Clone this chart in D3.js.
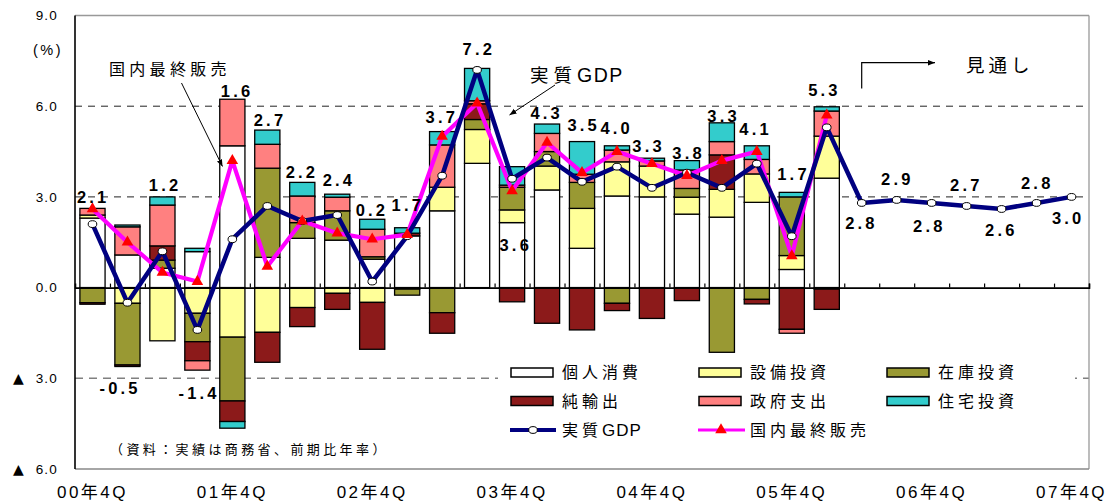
<!DOCTYPE html>
<html><head><meta charset="utf-8">
<script src="https://cdn.jsdelivr.net/npm/d3@7"></script>
<style>
body{margin:0;background:#fff}
svg{display:block;font-family:"Liberation Sans","Noto Sans CJK JP",sans-serif}
</style></head><body><svg id="c" width="1115" height="501"></svg>
<script>
// ---------------- DATA ----------------
const quarters = ["00年4Q","01年1Q","01年2Q","01年3Q","01年4Q","02年1Q","02年2Q","02年3Q","02年4Q",
  "03年1Q","03年2Q","03年3Q","03年4Q","04年1Q","04年2Q","04年3Q","04年4Q","05年1Q","05年2Q","05年3Q",
  "05年4Q","06年1Q","06年2Q","06年3Q","06年4Q","07年1Q","07年2Q","07年3Q","07年4Q"];
const xTickLabels = ["00年4Q","01年4Q","02年4Q","03年4Q","04年4Q","05年4Q","06年4Q","07年4Q"];
const yTicks = [-6, -3, 0, 3, 6, 9];
const yTickLabels = ["▲ 6.0","▲ 3.0","0.0","3.0","6.0","9.0"];
const seriesNames = ["個人消費","設備投資","在庫投資","純輸出","政府支出","住宅投資"];
// contributions (actual quarters 00年4Q .. 06年1Q)
const personal   = [2.30,1.08,0.64,1.19,4.69,1.00,1.63,1.57,0.94,1.71,2.54,4.11,2.15,3.23,1.30,3.03,3.00,2.43,2.33,2.82,0.60,3.62];
const capex      = [0.10,-0.52,-1.76,-0.85,-1.64,-1.48,-0.66,-0.19,-0.49,-0.05,0.78,1.12,0.42,0.79,1.32,1.13,1.02,0.56,0.92,0.94,0.46,1.39];
const inventory  = [-0.50,-2.04,0.27,-0.94,-2.11,2.95,0.52,0.97,0.08,-0.20,-0.83,0.33,0.75,0.48,0.86,-0.52,0.00,0.29,-2.14,-0.39,1.94,-0.05];
const netExports = [-0.05,-0.05,0.47,-0.63,-0.68,-0.99,-0.63,-0.53,-1.55,0.09,-0.68,0.52,-0.47,-1.18,-1.40,-0.24,-1.02,-0.43,1.14,-0.15,-1.38,-0.67];
const government = [0.22,0.93,1.35,-0.31,1.54,0.79,0.88,0.45,0.91,0.00,1.40,0.10,0.07,0.60,0.27,0.39,0.17,0.61,0.44,0.48,-0.13,0.83];
const housing    = [0.00,0.06,0.27,0.11,-0.22,0.47,0.45,0.10,0.33,0.18,0.44,1.07,0.61,0.31,1.08,0.14,0.09,0.31,0.62,0.45,0.15,0.14];
const realGDP = [2.1,-0.5,1.2,-1.4,1.6,2.7,2.2,2.4,0.2,1.7,3.7,7.2,3.6,4.3,3.5,4.0,3.3,3.8,3.3,4.1,1.7,5.3,
  2.8,2.9,2.8,2.7,2.6,2.8,3.0];
const finalSales = [2.6,1.5,0.5,0.2,4.2,0.7,2.2,1.8,1.6,1.75,5.0,6.1,3.2,4.8,3.8,4.5,4.1,3.7,4.2,4.5,1.05,5.7];

// ---------------- LAYOUT / STYLE ----------------
const labelDx = [-1,-9,1,0,3,1,-2,0,-2,-1,-2,0,2,-2,0,-2,-5,0,0,-3,0,-4,-2,-1,-4,-2,-2,-1,-5];
const labelDy = [-27,85,-66,63,-148,-86,-49,-35,-71,-31,-59,-21,66,-45,-57,-39,-42,-20,-72,-35,-62,-37,20,-21,23,-21,21,-20,21];
const colors = ["#FFFFFF","#FFFF99","#999933","#8C1A1A","#FF8080","#33CCCC"];
const L = 75, R = 1089, T = 15.5, B = 469;

const svg = d3.select("#c");
const x = d3.scaleBand().domain(quarters).range([L, R]).paddingInner(0.28).paddingOuter(0.14);
const y = d3.scaleLinear().domain([-6, 9]).range([B, T]);
const bw = x.bandwidth();
const cx = q => x(q) + bw / 2;

// gridlines
const grid = svg.append("g");
[6, 3].forEach(v => grid.append("line").attr("x1", L).attr("x2", R).attr("y1", y(v)).attr("y2", y(v))
  .attr("stroke", "#222").attr("stroke-width", 1).attr("stroke-dasharray", "7,6"));
grid.append("line").attr("x1", L).attr("x2", R).attr("y1", y(-3)).attr("y2", y(-3))
  .attr("stroke", "#808080").attr("stroke-width", 1.6).attr("stroke-dasharray", "8,6");

// stacked bars
const comps = [personal, capex, inventory, netExports, government, housing];
const rows = personal.map((_, i) => {
  const r = {q: quarters[i]};
  seriesNames.forEach((k, j) => r[k] = comps[j][i]);
  return r;
});
const stack = d3.stack().keys(seriesNames).offset(d3.stackOffsetDiverging)(rows);
svg.append("g").selectAll("g").data(stack).join("g")
  .attr("fill", (d, i) => colors[i])
  .selectAll("rect").data(d => d.filter(s => Math.abs(s[1] - s[0]) > 0.001)).join("rect")
  .attr("x", d => x(d.data.q)).attr("width", bw)
  .attr("y", d => y(Math.max(d[0], d[1])))
  .attr("height", d => Math.abs(y(d[0]) - y(d[1])))
  .attr("stroke", "#000").attr("stroke-width", 1.3);

// frame
svg.append("line").attr("x1", L).attr("x2", R).attr("y1", T).attr("y2", T).attr("stroke", "#999").attr("stroke-width", 1.3);
svg.append("line").attr("x1", R).attr("x2", R).attr("y1", T).attr("y2", B).attr("stroke", "#999").attr("stroke-width", 1.3);
svg.append("line").attr("x1", L).attr("x2", R).attr("y1", B).attr("y2", B).attr("stroke", "#888").attr("stroke-width", 1.6);

// zero line with ticks at band boundaries
const xb = d3.scaleLinear().domain([0, quarters.length]).range([L, R]);
const zeroAx = svg.append("g").attr("transform", `translate(0,${y(0)})`)
  .call(d3.axisTop(xb).tickValues(d3.range(1, quarters.length + 1)).tickSize(4).tickFormat(""));
zeroAx.select(".domain").attr("stroke", "#000").attr("stroke-width", 1.6);
zeroAx.selectAll(".tick line").attr("stroke", "#000").attr("stroke-width", 1.2);

// y axis
const yAx = svg.append("g").attr("transform", `translate(${L},0)`)
  .call(d3.axisLeft(y).tickValues(yTicks).tickSize(0).tickPadding(17)
    .tickFormat((d, i) => yTickLabels[i].replace("▲ ", "")));
yAx.select(".domain").remove();
yAx.selectAll("text").attr("font-size", 13.5).attr("fill", "#000").attr("letter-spacing", "1.2px")
  .attr("font-family", "Liberation Sans, sans-serif");
yTicks.forEach((v, i) => {
  if (yTickLabels[i].startsWith("▲"))
    svg.append("text").attr("x", 18.5).attr("y", y(v)).attr("dy", "0.35em").attr("text-anchor", "middle")
      .attr("font-size", 14).attr("font-family", "DejaVu Sans, sans-serif").text("▲");
});
svg.append("line").attr("x1", L).attr("x2", L).attr("y1", T).attr("y2", B).attr("stroke", "#000").attr("stroke-width", 1.6);
svg.append("text").attr("x", 48).attr("y", 50).attr("dy", "0.35em").attr("text-anchor", "middle")
  .attr("font-size", 14.5).attr("letter-spacing", "2.5px").text("(%)");

// x axis
const xAx = svg.append("g").attr("transform", `translate(0,${B})`)
  .call(d3.axisBottom(x).tickValues(xTickLabels).tickSize(0).tickPadding(17));
xAx.select(".domain").remove();
xAx.selectAll("text").attr("font-size", 17).attr("fill", "#000").attr("letter-spacing", "2.5px")
  .attr("font-family", "Liberation Sans, Noto Sans CJK JP, sans-serif");

// legend background
svg.append("rect").attr("x", 498).attr("y", 356).attr("width", 577).attr("height", 88).attr("fill", "#fff");

// lines
svg.append("path").datum(finalSales)
  .attr("fill", "none").attr("stroke", "#FF00FF").attr("stroke-width", 4.2).attr("stroke-linejoin", "round")
  .attr("d", d3.line().x((d, i) => cx(quarters[i])).y(d => y(d)));
svg.append("path").datum(realGDP)
  .attr("fill", "none").attr("stroke", "#000080").attr("stroke-width", 4.5).attr("stroke-linejoin", "round")
  .attr("d", d3.line().x((d, i) => cx(quarters[i])).y(d => y(d)));
svg.append("g").selectAll("ellipse").data(realGDP).join("ellipse")
  .attr("cx", (d, i) => cx(quarters[i])).attr("cy", d => y(d)).attr("rx", 4.3).attr("ry", 3.4)
  .attr("fill", "#fff").attr("stroke", "#000").attr("stroke-width", 1);
const tri = d3.symbol().type(d3.symbolTriangle).size(58);
svg.append("g").selectAll("path").data(finalSales).join("path")
  .attr("transform", (d, i) => `translate(${cx(quarters[i])},${y(d)})`)
  .attr("d", tri).attr("fill", "#FF0000");

// GDP value labels
svg.append("g").selectAll("text").data(realGDP).join("text")
  .attr("x", (d, i) => cx(quarters[i]) + labelDx[i] + 1.7)
  .attr("y", (d, i) => y(d) + labelDy[i]).attr("dy", "0.36em")
  .attr("text-anchor", "middle").attr("font-size", 16.5).attr("font-weight", "bold")
  .attr("letter-spacing", "3.2px").attr("font-family", "Liberation Sans, Arial, sans-serif")
  .text(d => d.toFixed(1));

// legend
const legItems = [
  {t: "rect", c: 0, col: 0, row: 0}, {t: "rect", c: 1, col: 1, row: 0}, {t: "rect", c: 2, col: 2, row: 0},
  {t: "rect", c: 3, col: 0, row: 1}, {t: "rect", c: 4, col: 1, row: 1}, {t: "rect", c: 5, col: 2, row: 1},
  {t: "gdp", name: ["実質", "GDP"], col: 0, row: 2}, {t: "fs", name: ["国内最終販売", ""], col: 1, row: 2}];
const colX = [511, 699, 887], rowY = [372.5, 401, 430];
legItems.forEach(it => {
  const x0 = colX[it.col], yc = rowY[it.row];
  let name;
  if (it.t === "rect") {
    svg.append("rect").attr("x", x0).attr("y", yc - 4.5).attr("width", 42).attr("height", 9)
      .attr("fill", colors[it.c]).attr("stroke", "#000").attr("stroke-width", 1.5);
    name = [seriesNames[it.c], ""];
  } else if (it.t === "gdp") {
    svg.append("line").attr("x1", x0 - 1).attr("x2", x0 + 45).attr("y1", yc).attr("y2", yc)
      .attr("stroke", "#000080").attr("stroke-width", 4);
    svg.append("ellipse").attr("cx", x0 + 22).attr("cy", yc).attr("rx", 4.3).attr("ry", 3.4)
      .attr("fill", "#fff").attr("stroke", "#000").attr("stroke-width", 1);
    name = it.name;
  } else {
    svg.append("line").attr("x1", x0 - 1).attr("x2", x0 + 46).attr("y1", yc).attr("y2", yc)
      .attr("stroke", "#FF00FF").attr("stroke-width", 3);
    svg.append("path").attr("transform", `translate(${x0 + 22},${yc})`).attr("d", tri).attr("fill", "#FF0000");
    name = it.name;
  }
  const t = svg.append("text").attr("x", x0 + 51).attr("y", yc).attr("dy", "0.36em").attr("font-size", 16);
  t.append("tspan").attr("letter-spacing", "4px").text(name[0]);
  if (name[1]) t.append("tspan").attr("letter-spacing", "1px").attr("font-size", 17).text(name[1]);
});

// source note
svg.append("text").attr("x", 110).attr("y", 449).attr("dy", "0.36em").attr("font-size", 13)
  .attr("letter-spacing", "3.4px").text("（資料：実績は商務省、前期比年率）");

// annotations
const defs = svg.append("defs");
defs.append("marker").attr("id", "ah").attr("viewBox", "0 0 10 10").attr("refX", 10).attr("refY", 5)
  .attr("markerWidth", 7).attr("markerHeight", 7).attr("orient", "auto-start-reverse")
  .attr("markerUnits", "userSpaceOnUse")
  .append("path").attr("d", "M0,1 L10,5 L0,9 Z").attr("fill", "#000");
svg.append("text").attr("x", 109).attr("y", 69).attr("dy", "0.36em").attr("font-size", 16)
  .attr("letter-spacing", "4.3px").text("国内最終販売");
svg.append("line").attr("x1", 181.5).attr("y1", 83).attr("x2", 222.5).attr("y2", 166.5)
  .attr("stroke", "#000").attr("stroke-width", 1).attr("marker-end", "url(#ah)");
const ga = svg.append("text").attr("x", 530).attr("y", 75).attr("dy", "0.36em").attr("font-size", 18.5);
ga.append("tspan").attr("letter-spacing", "5px").text("実質");
ga.append("tspan").attr("letter-spacing", "1.5px").attr("font-size", 19.5).text("GDP");
svg.append("line").attr("x1", 555).attr("y1", 85).attr("x2", 509.5).attr("y2", 115)
  .attr("stroke", "#000").attr("stroke-width", 1).attr("marker-end", "url(#ah)");
svg.append("text").attr("x", 966).attr("y", 65).attr("dy", "0.36em").attr("font-size", 18.5)
  .attr("letter-spacing", "4px").text("見通し");
svg.append("path").attr("d", "M861.7,88.5 L861.7,62.7 L935,62.7").attr("fill", "none")
  .attr("stroke", "#000").attr("stroke-width", 1.2).attr("marker-end", "url(#ah)");
</script></body></html>
